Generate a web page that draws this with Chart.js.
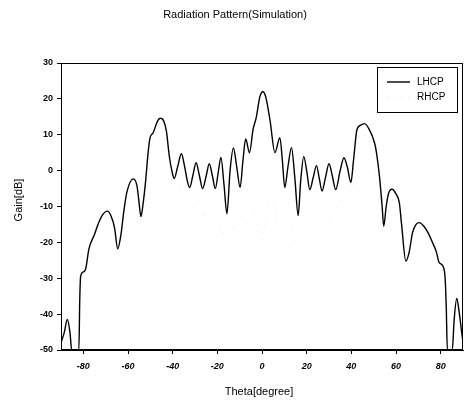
<!DOCTYPE html>
<html>
<head>
<meta charset="utf-8">
<script src="https://cdn.jsdelivr.net/npm/chart.js@4.4.1/dist/chart.umd.min.js"></script>
<style>
html,body{margin:0;padding:0;background:#fff;}
#wrap{width:465px;height:403px;position:relative;}
</style>
</head>
<body>
<div id="wrap"><canvas id="c" width="465" height="403"></canvas></div>
<script>
const chartTitle = "Radiation Pattern(Simulation)";
const xTitle = "Theta[degree]";
const yTitle = "Gain[dB]";
const xTickValues = [-80, -60, -40, -20, 0, 20, 40, 60, 80];
const yTickValues = [-50, -40, -30, -20, -10, 0, 10, 20, 30];

const lhcpTheta = [-90,-88.5,-87.2,-86,-85.2,-83,-82,-81.6,-81.2,-80.2,-79,-77.5,-75,-73,-71,-69.2,-67.5,-66,-64.6,-63.2,-61.8,-60.5,-57.6,-56,-55.2,-54.2,-53.2,-52.2,-51,-50.2,-48.8,-46.6,-45.4,-44,-42.8,-41.5,-40.2,-39.3,-37.8,-36.1,-34.6,-33.4,-32.4,-31,-29.5,-28,-26.6,-25,-23.6,-22.2,-20.9,-19.6,-18.4,-17,-15.7,-14.3,-12.8,-11.3,-9.8,-8.5,-7.3,-5.6,-4,-2.5,-1,0.4,1.7,3.6,5.8,8,9.1,10.2,11.6,13.2,14.7,16.2,17.3,18.7,20,21.4,22.9,24.4,25.6,26.9,28.4,30,31.5,33,35,36.7,38.2,39.8,41,42.5,44,45.9,48,50.5,51.5,52.6,53.8,54.5,55.6,56.6,58.2,60,61.5,62.5,64.4,65.8,67.4,69,70.4,72.5,74.5,76.3,78,79.3,81,82,82.5,83,85.2,86,87.2,88.2,89.2,90];
const lhcpGain = [-48,-45,-41.5,-45,-50,-50,-50,-36,-29.5,-28.3,-27.5,-21.8,-17.8,-14.3,-12,-11.3,-12.8,-16,-21.8,-18,-11,-6,-2.3,-4.2,-8,-12.8,-9,-3.5,5,9,10.5,14,14.6,13.8,11,4,-0.5,-2.2,1,4.7,1,-3,-4.7,-1.5,2.2,-1.5,-5,-1.5,1.9,-1.5,-5,-0.5,3.7,-4,-12,0,6.3,1,-4.7,3,8.8,5,11.5,15,20.5,22,20.5,14,5,9.2,3,-4.7,1,6.4,-2,-12.5,-3,3.9,0,-5.3,-2,1.4,-2,-5.7,-2,1.9,-1.5,-5.3,0,3.6,1,-3.3,3,11.4,12.6,13.1,11.5,7.5,4,-1.6,-10,-15.5,-10,-6.5,-5.2,-6.5,-9,-15,-25.2,-23,-17.3,-15,-14.5,-15.5,-17.5,-20,-22.5,-25.6,-26.6,-30,-38,-50,-50,-42,-35.6,-39,-44,-48];

const rhcpTheta = [-90,-86,-83,-81,-77,-73,-71,-68,-64,-60,-57,-54,-50,-46,-44,-40,-36,-32,-28,-24,-20,-16,-12,-8,-4,-2,0,2,4,8,12,15.6,20,24,28,32,36,40,44,48,52,55,58,62,65,69.5,74,79,82,84,86.4,88,90];
const rhcpGain = [-50,-46,-50,-25,-20,-13,-10.5,-13,-22,-8,-4,-14,6,12,11.5,-3,-6,-9,-12,-12.5,-14,-18,-15,-12,-10,-15,-20,-12,-8,-16,-14,-20,-18,-16,-14,-12,-8,-5,10,8,-5,-17,-8,-12,-24,-13,-18,-24,-32,-50,-36,-40,-47];

const toPts = (xs, ys) => xs.map((x, i) => ({x: x, y: ys[i]}));

const framePlugin = {
  id: 'framePlugin',
  afterDraw(chart) {
    const ctx = chart.ctx;
    const a = chart.chartArea;
    ctx.save();
    ctx.strokeStyle = '#000';
    ctx.lineWidth = 1;
    ctx.strokeRect(a.left + 0.5, a.top + 0.5, a.right - a.left - 1, a.bottom - a.top - 1);
    ctx.fillStyle = '#000';
    ctx.font = '11px "Liberation Sans", Arial, sans-serif';
    ctx.textAlign = 'center';
    ctx.textBaseline = 'middle';
    ctx.fillText(chartTitle, 235, 15);
    ctx.fillText(xTitle, 259, 392);
    ctx.save();
    ctx.translate(19, 200);
    ctx.rotate(-Math.PI / 2);
    ctx.fillText(yTitle, 0, 0);
    ctx.restore();
    const ds = chart.data.datasets;
    ctx.strokeStyle = '#000';
    ctx.lineWidth = 1;
    ctx.strokeRect(377.5, 67.5, 80, 45);
    ctx.font = '10px "Liberation Sans", Arial, sans-serif';
    ctx.textAlign = 'left';
    ds.forEach((d, i) => {
      const y = 82 + i * 15;
      ctx.save();
      ctx.strokeStyle = d.borderColor;
      ctx.lineWidth = d.borderWidth;
      ctx.setLineDash(d.borderDash || []);
      ctx.beginPath();
      ctx.moveTo(387, y);
      ctx.lineTo(410, y);
      ctx.stroke();
      ctx.restore();
      ctx.fillStyle = '#000';
      ctx.fillText(d.label, 417, y);
    });
    ctx.restore();
  }
};

new Chart(document.getElementById('c'), {
  type: 'line',
  data: {
    datasets: [
      {
        label: 'LHCP',
        data: toPts(lhcpTheta, lhcpGain),
        borderColor: '#000',
        borderWidth: 1.4,
        pointRadius: 0,
        fill: false,
        cubicInterpolationMode: 'monotone'
      },
      {
        label: 'RHCP',
        data: toPts(rhcpTheta, rhcpGain),
        borderColor: 'rgba(170,170,170,0.3)',
        borderWidth: 1,
        borderDash: [1, 6],
        pointRadius: 0,
        fill: false,
        cubicInterpolationMode: 'monotone'
      }
    ]
  },
  options: {
    responsive: false,
    animation: false,
    layout: {padding: {left: 0, right: 2, top: 63, bottom: 0}},
    plugins: {legend: {display: false}, title: {display: false}, tooltip: {enabled: false}},
    scales: {
      x: {
        type: 'linear',
        min: -90, max: 90,
        afterBuildTicks(s) { s.ticks = xTickValues.map(v => ({value: v})); },
        afterFit(s) { s.height = 53; },
        grid: {drawOnChartArea: false, drawTicks: true, tickLength: 4, color: '#000'},
        border: {display: true, color: '#000', width: 1},
        ticks: {color: '#000', padding: 7, maxRotation: 0, autoSkip: false,
                font: {family: '"Liberation Sans", Arial, sans-serif', size: 9, style: 'italic', weight: 'bold'}}
      },
      y: {
        type: 'linear',
        min: -50, max: 30,
        afterBuildTicks(s) { s.ticks = yTickValues.map(v => ({value: v})); },
        afterFit(s) { s.width = 61; },
        grid: {drawOnChartArea: false, drawTicks: true, tickLength: 4, color: '#000'},
        border: {display: true, color: '#000', width: 1},
        ticks: {color: '#000', padding: 4, autoSkip: false,
                font: {family: '"Liberation Sans", Arial, sans-serif', size: 9, weight: 'bold'}}
      }
    }
  },
  plugins: [framePlugin]
});
</script>
</body>
</html>
